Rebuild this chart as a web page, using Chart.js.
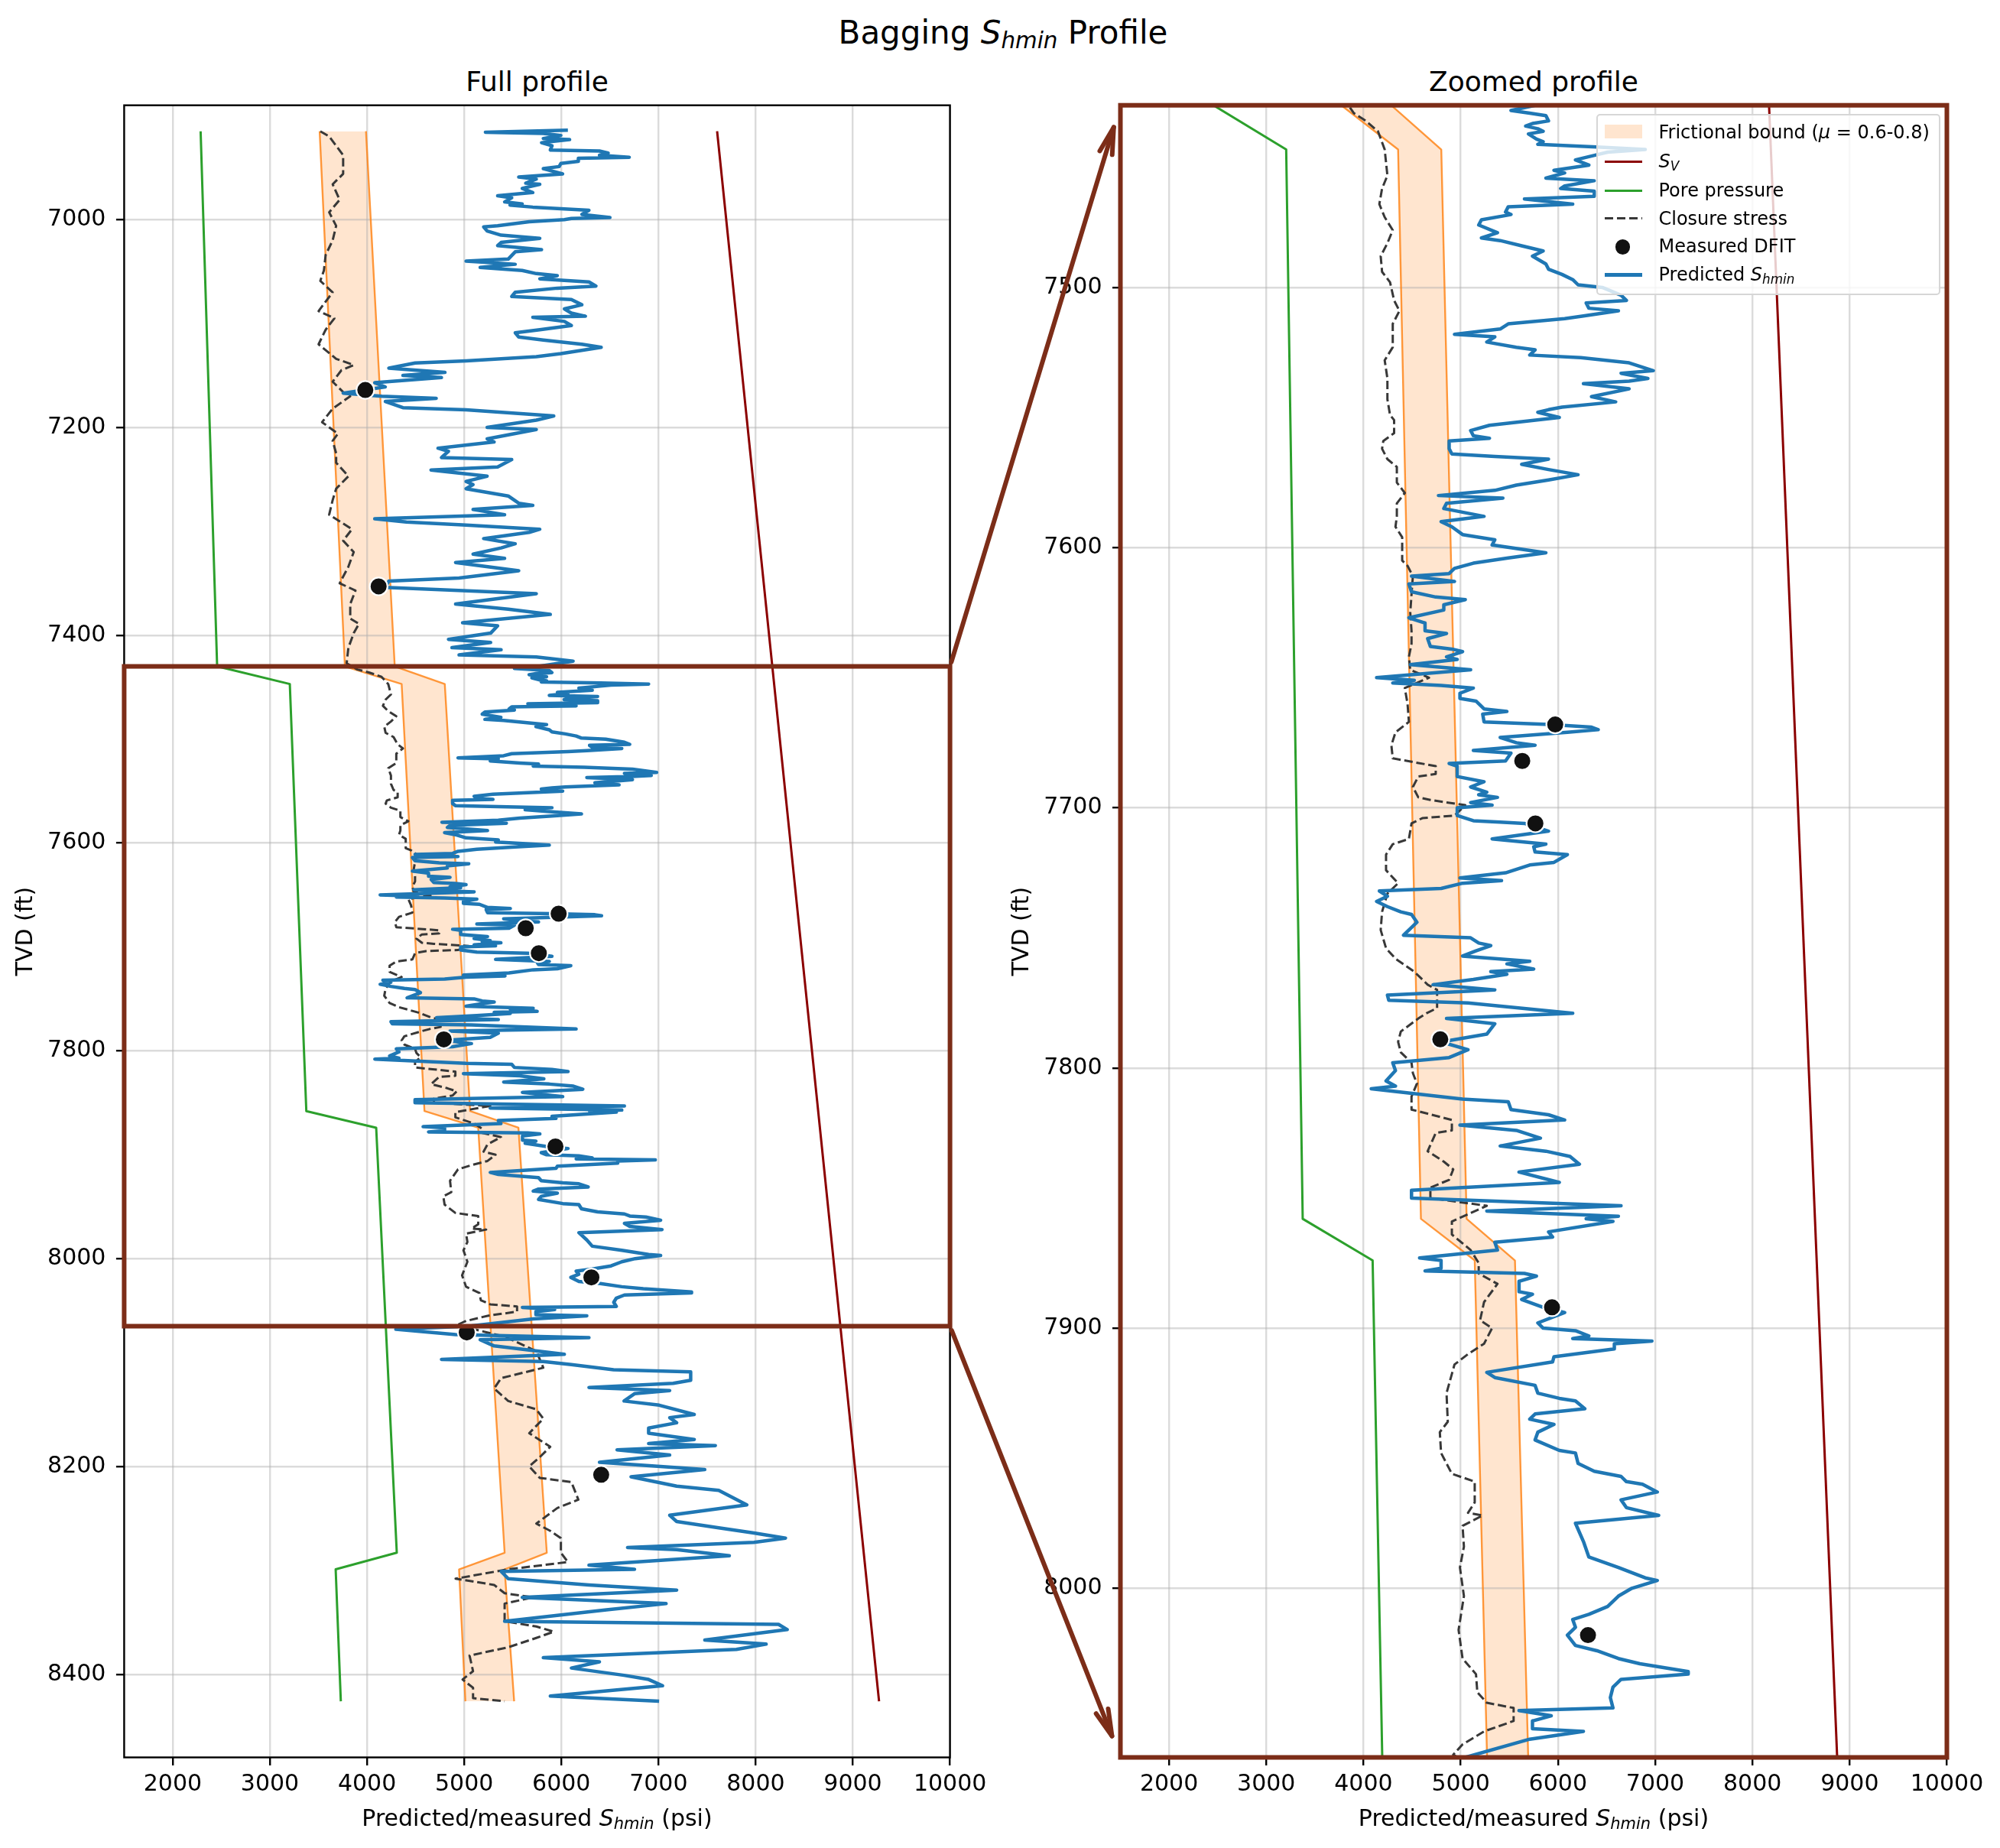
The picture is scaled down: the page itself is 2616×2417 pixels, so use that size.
<!DOCTYPE html>
<html>
<head>
<meta charset="utf-8">
<script src="https://cdn.jsdelivr.net/npm/chart.js@4.4.1/dist/chart.umd.min.js"></script>
<style>
html,body{margin:0;padding:0;background:#fff;}
body{width:2616px;height:2417px;position:relative;overflow:hidden;font-family:'DejaVu Sans',sans-serif;color:#000;}
.txt{position:absolute;white-space:nowrap;line-height:1;}
.mi{font-style:italic;}
.sb{font-size:0.7em;font-style:italic;position:relative;top:0.22em;}
canvas{position:absolute;top:0;}
.hd{position:absolute;}
</style>
</head>
<body>
<div class="txt" style="font-size:42px;left:312px;width:2000px;text-align:center;top:21.5px">Bagging <span class="mi">S</span><span class="sb">hmin</span> Profile</div>
<div class="txt" style="font-size:36px;left:202.5px;width:1000px;text-align:center;top:88.5px">Full profile</div>
<div class="txt" style="font-size:36px;left:1506px;width:1000px;text-align:center;top:88.5px">Zoomed profile</div>

<canvas id="c1" width="1330" height="2417" style="left:0px"></canvas>
<canvas id="c2" width="1316" height="2417" style="left:1300px"></canvas>

<div class="txt" style="font-size:30px;left:202.5px;width:1000px;text-align:center;top:2362.6px">Predicted/measured <span class="mi">S</span><span class="sb">hmin</span> (psi)</div>
<div class="txt" style="font-size:30px;left:1506px;width:1000px;text-align:center;top:2362.6px">Predicted/measured <span class="mi">S</span><span class="sb">hmin</span> (psi)</div>

<div style="position:absolute;left:2088px;top:149.2px;width:449.5px;height:236.6px;box-sizing:border-box;border:2.8px solid #d6d6d6;border-radius:5px;background:rgba(255,255,255,0.8)"></div>
<div class="hd" style="left:2099px;top:163.3px;width:49px;height:17.7px;background:#ffe5cf"></div>
<div class="hd" style="left:2099px;top:210.2px;width:49px;height:3px;background:#8b0000"></div>
<div class="hd" style="left:2099px;top:247.8px;width:49px;height:3px;background:#2ca02c"></div>
<div class="hd" style="left:2099px;top:284.2px;width:49px;height:3px;background:repeating-linear-gradient(90deg,#383838 0px,#383838 11px,transparent 11px,transparent 16px)"></div>
<div class="hd" style="left:2110.9px;top:311.4px;width:23.2px;height:23.2px;border-radius:50%;background:#111111;box-sizing:border-box;border:2px solid #fff"></div>
<div class="hd" style="left:2099px;top:357px;width:49px;height:4.5px;background:#1f77b4"></div>
<div class="txt" style="font-size:24px;left:2169.5px;top:160.7px">Frictional bound (<span class="mi">μ</span> = 0.6-0.8)</div>
<div class="txt" style="font-size:24px;left:2169.5px;top:199px"><span class="mi">S</span><span class="sb">V</span></div>
<div class="txt" style="font-size:24px;left:2169.5px;top:237.4px">Pore pressure</div>
<div class="txt" style="font-size:24px;left:2169.5px;top:273.7px">Closure stress</div>
<div class="txt" style="font-size:24px;left:2169.5px;top:310.4px">Measured DFIT</div>
<div class="txt" style="font-size:24px;left:2169.5px;top:347px">Predicted <span class="mi">S</span><span class="sb">hmin</span></div>

<canvas id="overlay" style="left:0;top:0;width:2616px;height:2417px;pointer-events:none"></canvas>

<script>
// ---------- axes ----------
const xMin = 1500, xMax = 10000;
const xTicks = [2000, 3000, 4000, 5000, 6000, 7000, 8000, 9000, 10000];
const fullRange = [6890, 8480];
const zoomRange = [7430, 8065];
const fullTicks = [7000, 7200, 7400, 7600, 7800, 8000, 8200, 8400];
const zoomTicks = [7500, 7600, 7700, 7800, 7900, 8000];

// ---------- vertical stress ----------
const svTVD = [6915, 8426];
const svPsi = [7603, 9270];

// ---------- pore pressure ----------
const poreTVD = [6915, 7430, 7447, 7858, 7874, 8283, 8299, 8426];
const porePsi = [2287, 2457, 3205, 3375, 4094, 4306, 3677, 3730];

// ---------- frictional bound (mu = 0.6-0.8) ----------
const bandTVD  = [6915, 7430, 7447, 7858, 7874, 8283, 8299, 8426];
const bandLow  = [3512, 3772, 4356, 4591, 5144, 5416, 4947, 5012];
const bandHigh = [3989, 4285, 4800, 5061, 5558, 5850, 5416, 5514];

// ---------- measured DFIT ----------
const dfitTVD = [7164, 7353, 7668, 7682, 7706, 7789, 7892, 8018, 8071, 8208];
const dfitPsi = [3982, 4119, 5972, 5633, 5768, 4790, 5939, 6309, 5026, 6410];

// ---------- closure stress ----------
const closureTVD = [
 6915,6920,6938,6956,6966,6981,6993,7006,7020,7034,
 7049,7059,7070,7088,7095,7106,7120,7134,7140,7145,
 7156,7166,7170,7182,7195,7206,7213,7225,7234,7247,
 7259,7270,7284,7298,7309,7320,7334,7350,7357,7370,
 7384,7389,7398,7412,7427,
 7433,7436,7440,7447,7457,7462,7468,7473,7478,7483,
 7488,7494,7498,7505,7509,7514,7523,7528,7535,7543,
 7549,7551,7556,7559,7562,7566,7569,7575,7579,7583,
 7588,7592,7596,7605,7607,7611,7618,7625,7632,7637,
 7642,7647,7650,7654,7660,7667,7671,7676,7681,7684,
 7687,7688,7692,7696,7697,7699,7703,7704,7706,7712,
 7714,7718,7724,7729,7733,7740,7747,7754,7758,7763,
 7768,7770,7777,7779,7781,7786,7790,7794,7798,7802,
 7806,7811,7816,7820,7824,7825,7832,7836,7839,7843,
 7846,7850,7853,7859,7864,7870,7875,7879,7883,7890,
 7897,7900,7906,7910,7914,7925,7936,7940,7948,7956,
 7959,7967,7971,7972,7976,7984,7992,8003,8016,8027,
 8033,8040,8044,8046,8051,8055,8060,8064,
 8066,8071,8075,8089,8105,8115,8125,8137,8145,8154,
 8168,8181,8191,8200,8211,8215,8232,8240,8255,8262,
 8269,8283,8292,8299,8308,8314,8322,8326,8332,8349,
 8354,8359,8365,8374,8382,8397,8405,8413,8423,8426
];
const closurePsi = [
 3519,3610,3754,3754,3646,3718,3610,3682,3646,3574,
 3556,3519,3646,3501,3664,3574,3501,3682,3863,3736,
 3646,3754,3827,3646,3537,3700,3646,3682,3682,3808,
 3682,3646,3610,3845,3754,3863,3808,3718,3881,3827,
 3827,3917,3863,3808,3790,
 3900,4025,4149,4218,4246,4191,4163,4218,4301,4246,
 4177,4191,4273,4315,4370,4301,4301,4218,4246,4246,
 4273,4315,4315,4204,4191,4246,4343,4343,4425,4343,
 4343,4329,4398,4398,4453,4508,4494,4481,4494,4494,
 4467,4481,4674,4425,4453,4467,4329,4287,4301,4743,
 4743,4564,4508,4564,4688,5047,4936,4605,4494,4467,
 4301,4232,4232,4356,4246,4191,4177,4232,4329,4522,
 4660,4757,4757,4646,4564,4384,4356,4384,4494,4508,
 4550,4494,4494,4909,4909,4743,4660,4826,4923,4881,
 4688,4688,5268,4909,4909,5102,5185,5185,5378,5240,
 5199,5323,5240,5075,4936,4854,4867,4785,4798,4909,
 5144,5144,5075,5226,5019,5033,4992,5033,4978,5019,
 5157,5171,5268,5544,5544,5240,5019,4923,
 5019,5236,5416,5742,5814,5380,5308,5453,5742,5814,
 5669,5886,5778,5669,5778,6103,6175,5958,5742,5886,
 5995,5995,6067,5453,4911,5308,5416,5706,5416,5416,
 5742,5922,5742,5453,5055,5091,4983,5091,5091,5416
];

// ---------- predicted Shmin ----------
const predTVD = [
 6914,6916,6917,6919,6922,6923,6926,6929,6933,6934,
 6936,6938,6940,6941,6944,6946,6949,6951,6956,6959,
 6961,6965,6966,6970,6974,6977,6979,6983,6985,6986,
 6988,6991,6995,6998,6999,7000,7002,7006,7007,7011,
 7015,7018,7022,7025,7029,7031,7038,7040,7043,7046,
 7049,7052,7054,7057,7060,7064,7066,7070,7074,7077,
 7082,7086,7090,7093,7094,7098,7102,7106,7109,7113,
 7116,7120,7123,7129,7132,7136,7138,7143,7147,7150,
 7152,7157,7161,7167,7170,7172,7175,7181,7183,7189,
 7193,7200,7202,7211,7214,7220,7223,7229,7231,7238,
 7241,7247,7252,7255,7259,7266,7273,7275,7279,7284,
 7288,7291,7294,7298,7301,7307,7312,7316,7322,7326,
 7330,7338,7345,7348,7354,7360,7370,7375,7380,7388,
 7391,7398,7404,7407,7412,7414,7419,7421,7425,
 7430,7432,7433,7434,7436,7437,7438,7439,7440,7441,
 7443,7444,7445,7446,7447,7448,7449,7451,7453,7455,
 7456,7458,7459,7461,7462,7463,7465,7466,7468,7469,
 7471,7472,7474,7476,7479,7481,7482,7484,7486,7488,
 7491,7493,7495,7497,7499,7500,7503,7505,7506,7508,
 7509,7511,7512,7514,7516,7518,7519,7521,7523,7524,
 7526,7527,7529,7532,7533,7535,7536,7537,7539,7542,
 7544,7546,7547,7548,7550,7553,7555,7557,7558,7559,
 7562,7564,7565,7566,7568,7570,7572,7574,7576,7578,
 7580,7581,7583,7585,7588,7590,7592,7595,7597,7599,
 7602,7604,7606,7608,7610,7611,7613,7614,7617,7619,
 7620,7622,7624,7627,7629,7632,7633,7635,7638,7639,
 7640,7642,7643,
 7645,7647,7650,7651,7652,7653,7654,7656,7658,7659,
 7662,7663,7664,7667,7668,7669,7670,7671,7673,7675,
 7676,7678,7679,7682,7683,7684,7688,7690,7692,7694,
 7695,7696,7698,7699,7700,7703,7705,7705.5,7706,7709,
 7712,7714,7715,7717,7718,7721,7722,7725,7727,7728,
 7729,7731,7732,7734,7736,7738,7740,7741,7744,7749,
 7750,7752,7753,7755,7757,7759,7760,7762,7763,7764,
 7766,7768,7770,7772,7774,7775,7779,7781,7783,7787,
 7790,7793,7796,7798,7801,7805,7807,7808,7812,7813,
 7816,7818,7820,7822,7824,7827,7830,7832,7834,7837,
 7840,7844,7847,7850,7853,
 7855,7857,7858,7859,7863,7865,7867,7870,7873,7874,
 7877,7878,7879,7880,7882,7886,7887,7889,7892,7894,
 7898,7900,7901,7903,7904,7905,7906,7908,7911,7913,
 7917,7919,7922,7925,7927,7928,7931,7933,7935,7937,
 7940,7943,7947,7948,7952,7955,7957,7959,7960,7963,
 7966,7969,7972,7975,7982,7988,7992,7996,7997,8000,
 8003,8007,8010,8012,8015,8018,8022,8024,8027,8029,
 8032,8033,8035,8038,8042,8046,8047,8049,8051,8054,
 8055,8058,8065,
 8068,8073,8076,8078,8084,8092,8097,8099,8102,8107,
 8109,8117,8120,8124,8127,8130,8137,8141,8150,8153,
 8158,8163,8168,8174,8178,8180,8184,8189,8196,8203,
 8210,8219,8223,8237,8247,8253,8259,8264,8269,8273,
 8278,8280,8286,8295,8299,8301,8308,8314,8319,8326,
 8332,8338,8349,8352,8357,8367,8371,8376,8384,8388,
 8394,8401,8405,8411,8421,8426
];
const predPsi = [
 6067,5218,5814,5995,5814,6085,5796,5904,5886,6392,
 6482,6392,6699,6175,6175,5995,5977,5814,6013,5561,
 5742,5633,5778,5597,5706,5344,5489,5416,5597,5471,
 5706,6284,6211,6500,6103,6031,5669,5344,5200,5236,
 5380,5778,5380,5344,5796,5525,5453,5019,5525,5164,
 5597,5742,5958,5778,6284,6356,5958,5525,5489,6103,
 6211,6031,6103,6248,5706,6031,6103,5778,5525,5561,
 5814,6211,6410,5995,5742,5019,4495,4224,4802,4369,
 4766,4079,4188,3754,4152,4712,4188,4369,5019,5922,
 5742,5236,5742,5236,5308,4730,4838,4766,5489,5344,
 4658,5236,5019,5091,5019,5453,5561,5706,5091,5416,
 4079,4405,5019,5778,5669,5200,5525,5380,5091,5416,
 4911,5561,4947,4224,4188,5742,4911,5453,5886,4983,
 5344,5272,4838,5272,4874,5380,4947,5742,6121,
 5765,5517,5710,5876,5903,5738,5668,5793,5848,5696,
 5779,5848,5793,6401,6898,6511,6401,6180,6318,5959,
 6069,5876,6373,6069,6028,6373,6373,5655,6152,5489,
 5461,5517,5213,5185,5378,5213,5406,5627,5848,5738,
 5876,5903,6041,6152,6207,6456,6649,6704,6290,6318,
 6622,6262,6069,5489,5406,4936,5351,5268,5572,5765,
 5710,6235,6732,6981,6649,6925,6732,6262,6732,6345,
 6594,6041,5903,5793,6014,5296,5102,5130,5296,4881,
 4881,4909,5351,5903,5627,5903,6207,5903,5572,5351,
 4771,5434,4854,4826,5240,4798,4909,5019,5351,5323,
 5876,5489,5130,4936,4881,4494,4936,4467,4494,4743,
 5047,4826,4826,4467,4633,4633,4854,4660,4688,4909,
 5019,4854,4964,
 4481,5102,4135,4522,4301,4799,5130,4992,4992,5157,
 5240,5475,5226,5240,5903,6345,6414,6097,5406,5572,
 5765,5130,5517,5461,4881,4964,4964,5240,5102,5268,
 5185,5378,5102,5323,4964,4964,5130,5406,5655,5903,
 5323,5876,5751,5765,6097,5959,5710,5461,4992,5420,
 5019,4799,4163,4246,4135,4246,4384,4494,4550,4412,
 5102,5185,5309,5157,5019,5710,5475,5751,5309,5475,
 5130,4715,5351,4246,4260,5075,6152,4854,5351,5268,
 4799,5075,4881,4301,4329,4232,4329,4080,5019,5489,
 5517,5903,6069,4992,5572,5820,5406,5876,6124,6221,
 5599,6014,4494,4494,6649,
 5268,6622,6290,6566,5903,5945,5351,5378,4577,4798,
 4798,4633,5655,5779,5600,5600,5738,5627,5848,6069,
 5793,5848,6180,6318,6152,6967,6580,6580,5959,5945,
 5268,5351,5765,5793,6014,6180,6276,5765,5710,5959,
 5793,5765,6014,6180,6207,6373,6649,6704,6870,7022,
 6649,6704,7036,6180,6262,6318,6622,6898,7022,6760,
 6622,6511,6318,6152,6180,6097,6180,6401,6622,6843,
 7340,7340,6649,6566,6539,6566,5599,5931,5738,5738,
 6262,5710,5047,
 4296,4911,6284,5164,5308,6031,4766,5814,6103,6537,
 7331,7331,7151,6284,7115,6753,6645,7006,7368,7115,
 7187,6898,6898,7368,6898,7585,6573,7115,6392,7476,
 6717,7187,7620,7909,7115,7187,7620,7982,8307,7982,
 6681,7187,7729,6284,6753,5380,5453,6284,7187,5597,
 7078,6464,5416,8235,8325,7476,8108,7801,5814,6392,
 6103,6645,6898,7042,5886,7006
];

// ---------- styling ----------
const BROWN = '#7c2d18';
const GRID = 'rgba(176,176,176,0.45)';
const EDGE = 'rgba(255,127,14,0.8)';
Chart.defaults.font.family = "'DejaVu Sans', sans-serif";
Chart.defaults.color = '#000';

const pts = (tvd, psi) => tvd.map((y, i) => ({x: psi[i], y: y}));

function makeDatasets() {
  const line = {pointRadius: 0, tension: 0, borderJoinStyle: 'round', borderCapStyle: 'butt', fill: false};
  return [
    Object.assign({}, line, {label: 'Frictional bound low', data: pts(bandTVD, bandLow), borderColor: EDGE, borderWidth: 2.4, backgroundColor: 'rgba(255,127,14,0.2)', fill: '+1', order: 7}),
    Object.assign({}, line, {label: 'Frictional bound high', data: pts(bandTVD, bandHigh), borderColor: EDGE, borderWidth: 2.4, order: 7}),
    Object.assign({}, line, {label: 'Sv', data: pts(svTVD, svPsi), borderColor: '#8b0000', borderWidth: 3, order: 6}),
    Object.assign({}, line, {label: 'Pore pressure', data: pts(poreTVD, porePsi), borderColor: '#2ca02c', borderWidth: 3, order: 6}),
    Object.assign({}, line, {label: 'Closure stress', data: pts(closureTVD, closurePsi), borderColor: '#383838', borderWidth: 3, borderDash: [11.1, 4.8], order: 5}),
    Object.assign({}, line, {label: 'Predicted Shmin', data: pts(predTVD, predPsi), borderColor: '#1f77b4', borderWidth: 4.5, order: 4}),
    {label: 'Measured DFIT', data: pts(dfitTVD, dfitPsi), showLine: false, pointRadius: 11.6, pointHoverRadius: 11.6,
     pointBackgroundColor: '#111111', pointBorderColor: '#ffffff', pointBorderWidth: 2.2, order: 1}
  ];
}

const framePlugin = {
  id: 'frame',
  afterDatasetsDraw(chart, args, opts) {
    const a = chart.chartArea, ctx = chart.ctx;
    ctx.save();
    ctx.strokeStyle = opts.color;
    ctx.lineWidth = opts.width;
    ctx.lineJoin = 'miter';
    ctx.strokeRect(a.left, a.top, a.right - a.left, a.bottom - a.top);
    ctx.restore();
  }
};

function makeChart(id, range, yTicks, cfg) {
  return new Chart(document.getElementById(id), {
    type: 'line',
    data: {datasets: makeDatasets()},
    plugins: [framePlugin],
    options: {
      indexAxis: 'y',
      responsive: false,
      animation: false,
      events: [],
      layout: {padding: {left: 0, top: cfg.top, right: cfg.right, bottom: 0}},
      plugins: {
        legend: {display: false},
        tooltip: {enabled: false},
        title: {display: false},
        filler: {drawTime: 'beforeDraw'},
        frame: {color: cfg.frameColor, width: cfg.frameWidth}
      },
      scales: {
        x: {
          type: 'linear', position: 'bottom', min: xMin, max: xMax,
          afterBuildTicks: s => { s.ticks = xTicks.map(v => ({value: v})); },
          afterFit: s => { s.height = cfg.xAxisH; },
          grid: {color: GRID, lineWidth: 2.4, drawTicks: true, tickLength: 10.5, tickColor: '#000', tickWidth: 2.4},
          border: {display: false},
          ticks: {color: '#000', font: {size: 30}, padding: 7, autoSkip: false, maxRotation: 0, minRotation: 0,
                  callback: v => String(v)}
        },
        y: {
          type: 'linear', position: 'left', reverse: true, min: range[0], max: range[1],
          afterBuildTicks: s => { s.ticks = yTicks.map(v => ({value: v})); },
          afterFit: s => { s.width = cfg.yAxisW; },
          grid: {color: GRID, lineWidth: 2.4, drawTicks: true, tickLength: 10.5, tickColor: '#000', tickWidth: 2.4},
          border: {display: false},
          ticks: {color: '#000', font: {size: 30}, padding: 13.5, autoSkip: false, callback: v => String(v)},
          title: {display: true, text: 'TVD (ft)', color: '#000', font: {size: 30}, padding: {top: cfg.yTitlePad, bottom: 0}}
        }
      }
    }
  });
}

const c1 = makeChart('c1', fullRange, fullTicks, {top: 137.7, right: 1330 - 1242.6, xAxisH: 2417 - 2298.5, yAxisW: 162.4, yTitlePad: 16.4, frameColor: '#000', frameWidth: 2.4});
const c2 = makeChart('c2', zoomRange, zoomTicks, {top: 137.7, right: 1316 - 1246.5, xAxisH: 2417 - 2298.5, yAxisW: 165.5, yTitlePad: 19.5, frameColor: BROWN, frameWidth: 6});

// ---------- overlay: zoom rectangle and connector arrows ----------
function drawOverlay() {
  const cv = document.getElementById('overlay');
  const dpr = window.devicePixelRatio || 1;
  cv.width = 2616 * dpr; cv.height = 2417 * dpr;
  const ctx = cv.getContext('2d');
  ctx.scale(dpr, dpr);
  const off1 = 0, off2 = 1300;
  const X1 = v => c1.scales.x.getPixelForValue(v) + off1;
  const Y1 = v => c1.scales.y.getPixelForValue(v);
  const X2 = v => c2.scales.x.getPixelForValue(v) + off2;
  const Y2 = v => c2.scales.y.getPixelForValue(v);
  ctx.strokeStyle = BROWN;
  ctx.lineWidth = 6;
  ctx.strokeRect(X1(xMin), Y1(zoomRange[0]), X1(xMax) - X1(xMin), Y1(zoomRange[1]) - Y1(zoomRange[0]));
  function arrow(ax, ay, bx, by) {
    const dx = bx - ax, dy = by - ay, L = Math.hypot(dx, dy), ux = dx / L, uy = dy / L;
    const sx = ax + ux * 6, sy = ay + uy * 6;
    const tx = bx - ux * 30, ty = by - uy * 30;
    ctx.lineCap = 'round'; ctx.lineJoin = 'round'; ctx.lineWidth = 6;
    ctx.beginPath(); ctx.moveTo(sx, sy); ctx.lineTo(tx, ty); ctx.stroke();
    const hl = 35, hw = 8.5, nx = -uy, ny = ux;
    ctx.beginPath();
    ctx.moveTo(tx - ux * hl + nx * hw, ty - uy * hl + ny * hw);
    ctx.lineTo(tx, ty);
    ctx.lineTo(tx - ux * hl - nx * hw, ty - uy * hl - ny * hw);
    ctx.stroke();
  }
  arrow(X1(xMax), Y1(zoomRange[0]), X2(xMin), Y2(zoomRange[0]));
  arrow(X1(xMax), Y1(zoomRange[1]), X2(xMin), Y2(zoomRange[1]));
}
drawOverlay();
</script>
</body>
</html>
